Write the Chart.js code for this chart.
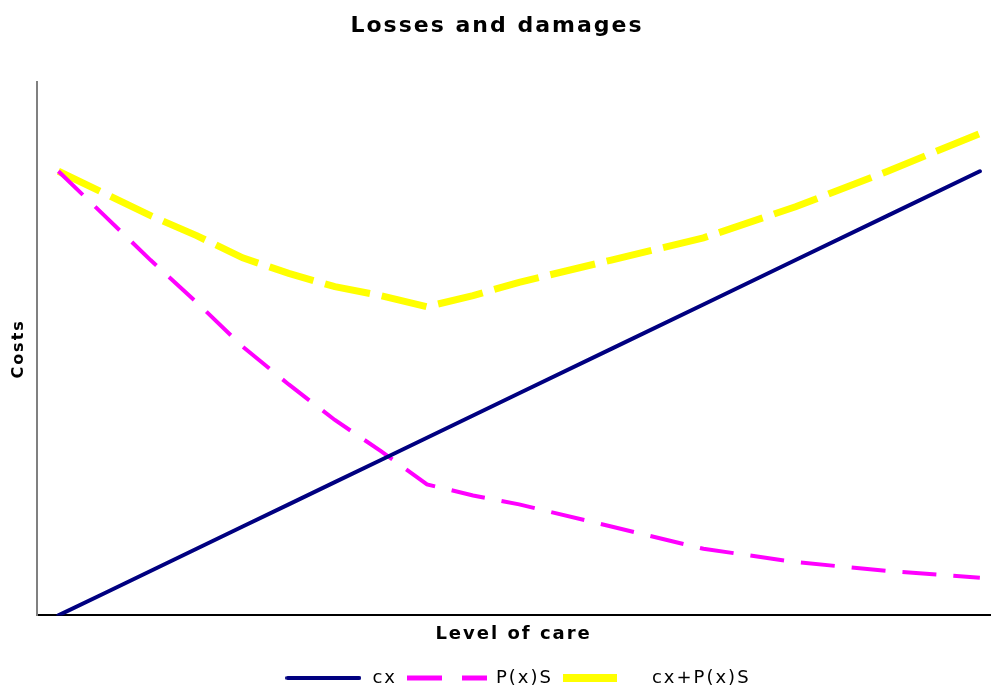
<!DOCTYPE html>
<html>
<head>
<meta charset="utf-8">
<script src="https://cdn.jsdelivr.net/npm/chart.js@4/dist/chart.umd.min.js"></script>
<style>
  html, body { margin: 0; padding: 0; background: #ffffff; }
  #wrap { width: 991px; height: 688px; }
</style>
</head>
<body>
<div id="wrap"><canvas id="c" width="991" height="688"></canvas></div>
<script>
// Level of care (x) and the three cost curves
const careLevels = [0, 5, 10, 15, 20, 25, 30, 35, 40, 45, 50, 60, 70, 80, 90, 100];
const careCost   = [0, 5, 10, 15, 20, 25, 30, 35, 40, 45, 50, 60, 70, 80, 90, 100];
const expectedLoss = [100, 90, 80, 70.5, 60.5, 52, 44, 37, 29.5, 27, 25, 20, 15, 12, 10, 8.5];
const totalCost  = [100, 95, 90, 85.5, 80.5, 77, 74, 72, 69.5, 72, 75, 80, 85, 92, 100, 108.5];
const seriesNames = ['cx', 'P(x)S', 'cx+P(x)S'];

const FONT = 'DejaVu Sans, Verdana, sans-serif';
const NAVY = '#000080', MAGENTA = '#ff00ff', YELLOW = '#ffff00';

function pts(ys) { return careLevels.map((x, i) => ({ x: x, y: ys[i] })); }

// Small legend swatches showing each line's stroke pattern
function swatch(color, width, dash, w, h) {
  const cv = document.createElement('canvas');
  cv.width = w; cv.height = h;
  const g = cv.getContext('2d');
  g.strokeStyle = color;
  g.lineWidth = width;
  g.lineCap = dash.length ? 'butt' : 'round';
  g.setLineDash(dash);
  g.beginPath();
  g.moveTo(dash.length ? 0 : width / 2, h / 2);
  g.lineTo(dash.length ? w : w - width / 2, h / 2);
  g.stroke();
  return cv;
}

// Wider tracking for the chart's text
const tracking = {
  id: 'tracking',
  beforeLayout(chart) { chart.ctx.letterSpacing = '2px'; },
  beforeDraw(chart) { chart.ctx.letterSpacing = '2px'; },
  afterLayout(chart) {
    // nudge the legend row to sit under the plot area centre
    const lg = chart.legend;
    if (lg) { lg.left += 20; lg.right += 20; }
  }
};

new Chart(document.getElementById('c'), {
  type: 'line',
  plugins: [tracking],
  data: {
    datasets: [
      { label: seriesNames[0], data: pts(careCost), borderColor: NAVY, backgroundColor: NAVY,
        borderWidth: 4, borderCapStyle: 'round', pointRadius: 0, tension: 0,
        pointStyle: swatch(NAVY, 4, [], 76, 8) },
      { label: seriesNames[1], data: pts(expectedLoss), borderColor: MAGENTA, backgroundColor: MAGENTA,
        borderWidth: 4, borderDash: [34, 17], pointRadius: 0, tension: 0,
        pointStyle: swatch(MAGENTA, 5, [35, 20], 80, 8) },
      { label: seriesNames[2], data: pts(totalCost), borderColor: YELLOW, backgroundColor: YELLOW,
        borderWidth: 7, borderDash: [46, 12], pointRadius: 0, tension: 0,
        pointStyle: swatch(YELLOW, 8, [54, 40], 80, 10) }
    ]
  },
  options: {
    responsive: false,
    animation: false,
    layout: { padding: { left: 4, right: 1, top: 0, bottom: -9 } },
    plugins: {
      title: {
        display: true, text: 'Losses and damages', color: '#000',
        font: { family: FONT, size: 22, weight: 'bold' },
        padding: { top: 13, bottom: 43 }
      },
      legend: {
        position: 'bottom',
        labels: {
          color: '#000', font: { family: FONT, size: 18 },
          usePointStyle: true, pointStyleWidth: 80, boxWidth: 80, boxHeight: 8, padding: 10
        }
      },
      tooltip: { enabled: false }
    },
    scales: {
      x: {
        type: 'linear', min: -2.3, max: 101.1,
        grid: { display: false, drawTicks: false },
        ticks: { display: false },
        border: { display: true, color: '#000', width: 2 },
        title: { display: true, text: 'Level of care', color: '#000',
          font: { family: FONT, size: 18, weight: 'bold' }, padding: { top: 8, bottom: 14 } }
      },
      y: {
        type: 'linear', min: 0, max: 120,
        grid: { display: false, drawTicks: false },
        ticks: { display: false },
        border: { display: true, color: '#808080', width: 2 },
        title: { display: true, text: 'Costs', color: '#000',
          font: { family: FONT, size: 16, weight: 'bold' }, padding: { top: 5, bottom: 9 } }
      }
    }
  }
});
</script>
</body>
</html>
